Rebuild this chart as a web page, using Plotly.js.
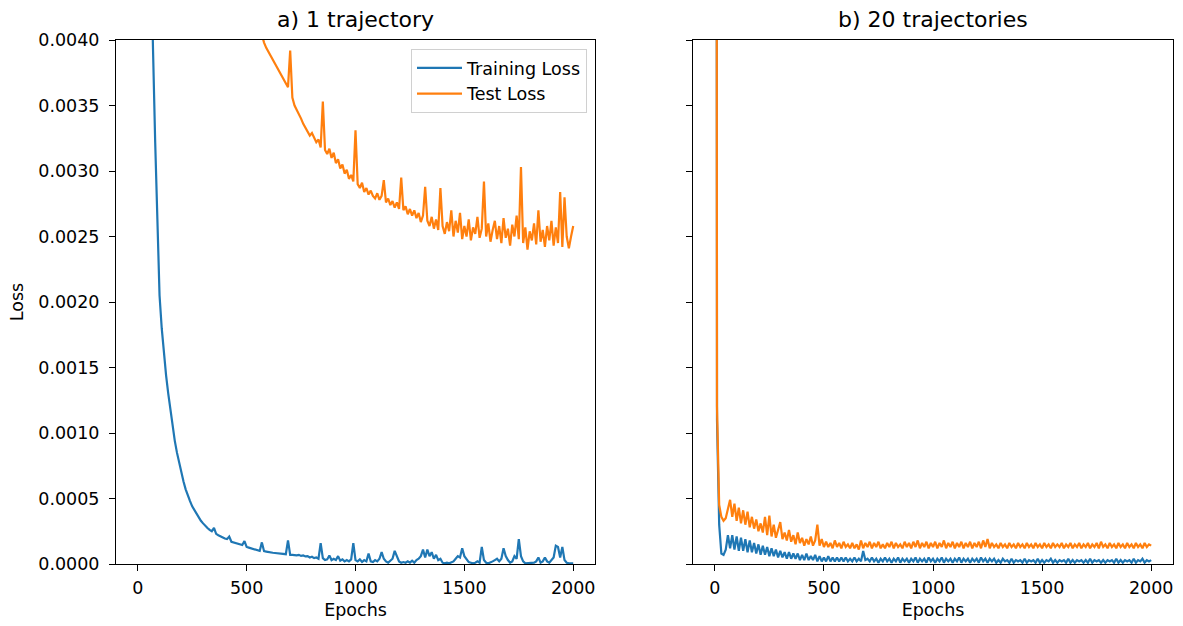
<!DOCTYPE html>
<html>
<head>
<meta charset="utf-8">
<script src="https://cdn.plot.ly/plotly-3.0.1.min.js"></script>
<style>html,body{margin:0;padding:0;background:#fff;}#chart{width:1183px;height:626px;}</style>
</head>
<body>
<div id="chart"></div>
<script>
// Shared epoch grid (every 10 epochs)
const epochs = [
  0,10,20,30,40,50,60,70,80,90,
  100,110,120,130,140,150,160,170,180,190,
  200,210,220,230,240,250,260,270,280,290,
  300,310,320,330,340,350,360,370,380,390,
  400,410,420,430,440,450,460,470,480,490,
  500,510,520,530,540,550,560,570,580,590,
  600,610,620,630,640,650,660,670,680,690,
  700,710,720,730,740,750,760,770,780,790,
  800,810,820,830,840,850,860,870,880,890,
  900,910,920,930,940,950,960,970,980,990,
  1000,1010,1020,1030,1040,1050,1060,1070,1080,1090,
  1100,1110,1120,1130,1140,1150,1160,1170,1180,1190,
  1200,1210,1220,1230,1240,1250,1260,1270,1280,1290,
  1300,1310,1320,1330,1340,1350,1360,1370,1380,1390,
  1400,1410,1420,1430,1440,1450,1460,1470,1480,1490,
  1500,1510,1520,1530,1540,1550,1560,1570,1580,1590,
  1600,1610,1620,1630,1640,1650,1660,1670,1680,1690,
  1700,1710,1720,1730,1740,1750,1760,1770,1780,1790,
  1800,1810,1820,1830,1840,1850,1860,1870,1880,1890,
  1900,1910,1920,1930,1940,1950,1960,1970,1980,1990,
  2000
];

// a) 1 trajectory — training loss
const trainLoss1 = [
  0.0215,0.0152,0.0113,0.0086,0.0068,0.0055,0.0046,0.00393,0.00322,0.00262,
  0.00205,0.00180,0.00160,0.00144,0.00130,0.00117,0.00104,0.00094,0.00085,0.00077,
  0.00069,0.00063,0.00057,0.00052,0.00048,0.00044,0.00041,0.00038,0.00035,0.00033,
  0.00031,0.00029,0.000275,0.00026,0.00025,0.000275,0.00023,0.00022,0.00021,0.00020,
  0.000195,0.00019,0.00021,0.00017,0.000165,0.00016,0.000155,0.00015,0.000145,0.000175,
  0.00013,0.000125,0.00012,0.000115,0.00011,0.000105,0.0001,0.000165,0.000098,0.000095,
  0.00009,0.000088,0.000086,0.000084,0.000082,0.00008,0.000078,0.000076,0.000075,0.00018,
  0.00007,0.00007,0.000068,0.000066,0.00007,0.000062,0.000065,0.000058,0.00006,0.00005,
  0.000055,0.000045,0.00005,0.00004,0.00016,0.000045,0.00003,0.000035,0.000065,0.00003,
  0.00004,0.00003,0.00006,0.000025,0.000035,0.00002,0.00003,0.00002,0.000035,0.00016,
  0.00003,0.00002,0.000035,0.000015,0.00003,0.00002,0.00008,0.00002,0.000015,0.00003,
  0.00002,0.00004,0.00009,0.00004,0.00002,0.00001,0.000025,0.00004,0.0001,0.00006,
  0.00002,0.00001,0.000015,0.00001,0.00002,0.00001,0.000025,0.00001,0.00003,0.00004,
  0.00006,0.00011,0.00005,0.00011,0.00006,0.00009,0.00004,0.00007,0.00003,0.00004,
  0.00001,0.000005,0.00001,0.000005,0.00001,0.00002,0.00004,0.00006,0.00005,0.00012,
  0.00006,0.00004,0.000015,0.00001,0.000005,0.00001,0.00002,0.00001,0.00013,0.00003,
  0.00001,0.000005,0.00001,0.00002,0.00003,0.00004,0.00002,0.00004,0.00012,0.00006,
  0.00003,0.00001,0.00002,0.00006,0.00004,0.00019,0.00006,0.00002,0.000005,0.000005,
  0.00001,0.000005,0.00001,0.00002,0.00005,0.00001,0.00002,0.00005,0.00002,0.00001,
  0.00003,0.00005,0.00014,0.00013,0.00005,0.00013,0.00003,0.00001,0.000005,0.000005,
  0.000005
];

// a) 1 trajectory — test loss (above the axis range before epoch 560)
const testLoss1 = [
  null,null,null,null,null,null,null,null,null,null,
  null,null,null,null,null,null,null,null,null,null,
  null,null,null,null,null,null,null,null,null,null,
  null,null,null,null,null,null,null,null,null,null,
  null,null,null,null,null,null,null,null,null,null,
  null,null,null,null,null,null,0.00410,0.00403,0.00398,0.00394,
  0.00391,0.00388,0.00385,0.00382,0.00380,0.00376,0.00373,0.00370,0.00367,0.00364,
  0.00392,0.00356,0.00350,0.00347,0.00344,0.00340,0.00336,0.00333,0.00331,0.00327,
  0.00329,0.00325,0.00322,0.00324,0.00318,0.00353,0.00316,0.00313,0.00317,0.00310,
  0.00314,0.00306,0.00309,0.00302,0.00305,0.00298,0.00301,0.00294,0.00297,0.00292,
  0.00331,0.00290,0.00287,0.00291,0.00284,0.00287,0.00282,0.00285,0.00281,0.00279,
  0.00283,0.00278,0.00281,0.00293,0.00276,0.00279,0.00274,0.00277,0.00272,0.00276,
  0.00271,0.00295,0.00270,0.00273,0.00267,0.00271,0.00266,0.00270,0.00264,0.00268,
  0.00261,0.00266,0.00288,0.00262,0.00258,0.00265,0.00256,0.00263,0.00255,0.00287,
  0.00258,0.00252,0.00261,0.00254,0.00270,0.00250,0.00262,0.00253,0.00268,0.00248,
  0.00258,0.00250,0.00263,0.00247,0.00257,0.00252,0.00265,0.00249,0.00256,0.00292,
  0.00250,0.00260,0.00246,0.00255,0.00262,0.00248,0.00258,0.00245,0.00264,0.00249,
  0.00256,0.00243,0.00259,0.00250,0.00266,0.00248,0.00303,0.00245,0.00257,0.00240,
  0.00254,0.00247,0.00260,0.00244,0.00270,0.00246,0.00255,0.00242,0.00258,0.00247,
  0.00262,0.00243,0.00257,0.00245,0.00284,0.00242,0.00280,0.00250,0.00241,0.00250,
  0.00258
];

// b) 20 trajectories — training loss
const trainLoss20 = [
  0.0300,0.00110,0.00030,0.00008,0.00007,0.00011,0.00022,0.00012,0.00022,0.00011,
  0.00021,0.00010,0.00020,0.00010,0.00019,0.00009,0.00018,0.00009,0.00016,0.00008,
  0.00015,0.00007,0.00014,0.00007,0.00013,0.00006,0.00012,0.00006,0.00011,0.00005,
  0.00010,0.00005,0.00009,0.00004,0.00009,0.00004,0.00008,0.00004,0.00008,0.00003,
  0.00007,0.00003,0.00008,0.00003,0.00006,0.00003,0.00007,0.00002,0.00006,0.00002,
  0.00005,0.00002,0.00006,0.00002,0.00005,0.00002,0.00005,0.00002,0.00005,0.00002,
  0.00005,0.00002,0.00004,0.00002,0.00005,0.00002,0.00004,0.00002,0.00010,0.00003,
  0.00004,0.00002,0.00005,0.00002,0.00004,0.00001,0.00004,0.00002,0.00005,0.00002,
  0.00004,0.00001,0.00004,0.00002,0.00005,0.00001,0.00004,0.00002,0.00004,0.00001,
  0.00004,0.00002,0.00005,0.00001,0.00004,0.00002,0.00004,0.00001,0.00005,0.00002,
  0.00004,0.00001,0.00004,0.00002,0.00005,0.00001,0.00004,0.00002,0.00004,0.00001,
  0.00004,0.00002,0.00005,0.00001,0.00004,0.00002,0.00004,0.00001,0.00004,0.00002,
  0.00004,0.00001,0.00005,0.00002,0.00004,0.00001,0.00004,0.00002,0.00004,0.00001,
  0.00003,0.00001,0.00004,0.00002,0.00003,0.00001,0.00004,0.00001,0.00003,0.00002,
  0.00003,0.00001,0.00004,0.00001,0.00003,0.00002,0.00003,0.00001,0.00004,0.00001,
  0.00003,0.00001,0.00003,0.00002,0.00004,0.00001,0.00003,0.00001,0.00003,0.00002,
  0.00003,0.00001,0.00004,0.00001,0.00003,0.00001,0.00003,0.00002,0.00003,0.00001,
  0.00003,0.00001,0.00004,0.00001,0.00003,0.00002,0.00003,0.00001,0.00003,0.00001,
  0.00003,0.00002,0.00003,0.00001,0.00004,0.00001,0.00003,0.00001,0.00003,0.00002,
  0.00003,0.00001,0.00004,0.00001,0.00003,0.00002,0.00004,0.00001,0.00003,0.00002,
  0.00003
];

// b) 20 trajectories — test loss
const testLoss20 = [
  0.0300,0.00120,0.00045,0.00036,0.00033,0.00035,0.00042,0.00049,0.00036,0.00046,
  0.00033,0.00043,0.00031,0.00041,0.00030,0.00040,0.00028,0.00036,0.00027,0.00034,
  0.00025,0.00031,0.00024,0.00036,0.00022,0.00037,0.00021,0.00030,0.00020,0.00026,
  0.00032,0.00019,0.00024,0.00018,0.00026,0.00017,0.00022,0.00015,0.00024,0.00016,
  0.00020,0.00014,0.00019,0.00015,0.00021,0.00014,0.00018,0.00030,0.00014,0.00019,
  0.00013,0.00017,0.00013,0.00016,0.00012,0.00018,0.00013,0.00016,0.00012,0.00017,
  0.00013,0.00015,0.00012,0.00016,0.00012,0.00015,0.00011,0.00018,0.00012,0.00016,
  0.00013,0.00017,0.00012,0.00016,0.00013,0.00017,0.00012,0.00015,0.00012,0.00016,
  0.00013,0.00017,0.00012,0.00016,0.00013,0.00015,0.00012,0.00017,0.00013,0.00016,
  0.00012,0.00017,0.00013,0.00018,0.00012,0.00016,0.00013,0.00017,0.00012,0.00016,
  0.00013,0.00017,0.00012,0.00016,0.00013,0.00018,0.00012,0.00016,0.00013,0.00017,
  0.00012,0.00016,0.00013,0.00017,0.00012,0.00016,0.00013,0.00017,0.00012,0.00016,
  0.00013,0.00017,0.00012,0.00018,0.00013,0.00019,0.00012,0.00016,0.00013,0.00015,
  0.00012,0.00016,0.00013,0.00015,0.00012,0.00016,0.00013,0.00015,0.00012,0.00016,
  0.00013,0.00015,0.00012,0.00016,0.00013,0.00015,0.00012,0.00016,0.00013,0.00015,
  0.00012,0.00016,0.00013,0.00015,0.00012,0.00016,0.00013,0.00015,0.00013,0.00016,
  0.00012,0.00015,0.00013,0.00016,0.00012,0.00015,0.00013,0.00016,0.00012,0.00015,
  0.00013,0.00016,0.00012,0.00015,0.00013,0.00016,0.00012,0.00017,0.00013,0.00015,
  0.00012,0.00016,0.00013,0.00015,0.00012,0.00016,0.00013,0.00015,0.00012,0.00016,
  0.00013,0.00015,0.00012,0.00016,0.00013,0.00015,0.00012,0.00016,0.00013,0.00015,
  0.00014
];

const seriesNames = ["Training Loss", "Test Loss"];
const panelTitles = ["a) 1 trajectory", "b) 20 trajectories"];
const xTickVals = [0, 500, 1000, 1500, 2000];
const yTickVals = [0, 0.0005, 0.0010, 0.0015, 0.0020, 0.0025, 0.0030, 0.0035, 0.0040];

const BLUE = "#1f77b4", ORANGE = "#ff7f0e";
const FONT = "DejaVu Sans, sans-serif";
const W = 1183, H = 626;
const FS = 17.5;

const traces = [
  {x: epochs, y: trainLoss1, name: seriesNames[0], mode: "lines", line: {color: BLUE, width: 2.2}, xaxis: "x", yaxis: "y"},
  {x: epochs, y: testLoss1, name: seriesNames[1], mode: "lines", line: {color: ORANGE, width: 2.2}, xaxis: "x", yaxis: "y"},
  {x: epochs, y: trainLoss20, name: seriesNames[0], mode: "lines", line: {color: BLUE, width: 2.2}, xaxis: "x2", yaxis: "y2", showlegend: false},
  {x: epochs, y: testLoss20, name: seriesNames[1], mode: "lines", line: {color: ORANGE, width: 2.2}, xaxis: "x2", yaxis: "y2", showlegend: false}
];

const xax = (domain, anchor) => ({
  domain: domain, anchor: anchor, range: [-100, 2100],
  tickvals: xTickVals, ticktext: xTickVals.map(String),
  ticks: "outside", ticklen: 6, tickwidth: 1, tickcolor: "#000",
  ticklabelstandoff: 2,
  showline: true, linecolor: "#000", linewidth: 1, mirror: true,
  showgrid: false, zeroline: false,
  tickfont: {family: FONT, size: FS, color: "#000"},
  title: {text: "Epochs", font: {family: FONT, size: FS, color: "#000"}, standoff: 6},
  fixedrange: true
});
const yax = (anchor, showLabels) => ({
  domain: [1 - 564 / H, 1 - 40 / H], anchor: anchor, range: [0, 0.004],
  tickvals: yTickVals, ticktext: yTickVals.map(v => v.toFixed(4)), showticklabels: showLabels,
  ticks: "outside", ticklen: 6, tickwidth: 1, tickcolor: "#000",
  ticklabelstandoff: 6,
  showline: true, linecolor: "#000", linewidth: 1, mirror: true,
  showgrid: false, zeroline: false,
  tickfont: {family: FONT, size: FS, color: "#000"},
  fixedrange: true
});

const layout = {
  width: W, height: H,
  margin: {l: 0, r: 0, t: 0, b: 0},
  paper_bgcolor: "#fff", plot_bgcolor: "#fff",
  font: {family: FONT, color: "#000"},
  showlegend: true,
  legend: {
    x: 587 / W, xanchor: "right", y: 1 - 49 / H, yanchor: "top",
    bgcolor: "rgba(255,255,255,0.8)", bordercolor: "#d0d0d0", borderwidth: 1,
    font: {family: FONT, size: FS, color: "#000"},
    tracegroupgap: 0, itemwidth: 45
  },
  xaxis: xax([116 / W, 595 / W], "y"),
  yaxis: Object.assign(yax("x", true), {title: {text: "Loss", font: {family: FONT, size: FS, color: "#000"}, standoff: 10}}),
  xaxis2: xax([693 / W, 1173 / W], "y2"),
  yaxis2: yax("x2", false),
  annotations: [
    {text: panelTitles[0], xref: "x domain", yref: "paper", x: 0.5, y: 1 - 20 / H, xanchor: "center", yanchor: "middle", showarrow: false, font: {family: FONT, size: 22, color: "#000"}},
    {text: panelTitles[1], xref: "x2 domain", yref: "paper", x: 0.5, y: 1 - 20 / H, xanchor: "center", yanchor: "middle", showarrow: false, font: {family: FONT, size: 22, color: "#000"}}
  ]
};

Plotly.newPlot("chart", traces, layout, {staticPlot: true, displayModeBar: false});
</script>
</body>
</html>
